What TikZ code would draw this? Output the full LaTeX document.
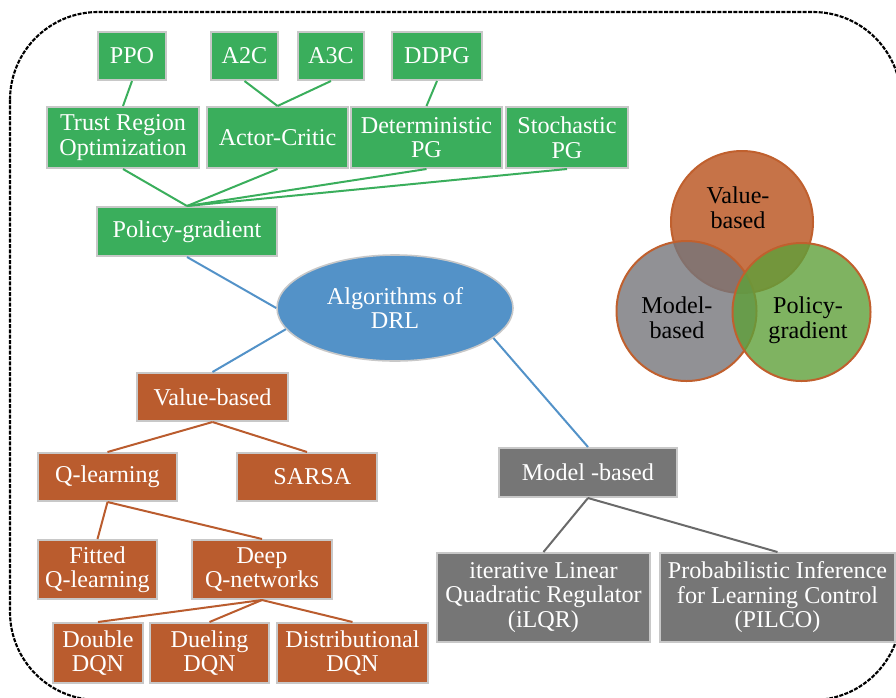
\documentclass[tikz,border=0pt]{standalone}
\usepackage{fontspec}
\setmainfont{Liberation Serif}
\usetikzlibrary{shapes.geometric}
\definecolor{gbox}{HTML}{3AAE5C}
\definecolor{obox}{HTML}{BA5C2E}
\definecolor{kbox}{HTML}{767676}
\definecolor{bell}{HTML}{5392C8}
\definecolor{boxedge}{HTML}{C8C8C8}
\definecolor{vorange}{HTML}{B8501A}
\definecolor{vgray}{HTML}{75757B}
\definecolor{vgreen}{HTML}{5FA03A}
\definecolor{vedge}{HTML}{C0602E}
\begin{document}
\begin{tikzpicture}[x=0.75pt,y=-0.75pt,
  box/.style={draw=boxedge, line width=1.5pt, inner sep=0pt, align=center, text=white,
    font=\fontsize{18.1}{18.4}\selectfont},
  sz/.style 2 args={minimum width=#1*0.75pt, minimum height=#2*0.75pt},
  gb/.style={box, fill=gbox},
  ob/.style={box, fill=obox},
  kb/.style={box, fill=kbox},
  gl/.style={draw=gbox, line width=1.5pt},
  ol/.style={draw=obox, line width=1.5pt},
  kl/.style={draw=kbox!90!black, line width=1.5pt},
  bl/.style={draw=bell, line width=1.5pt},
  venn/.style={draw=vedge, line width=1.5pt, fill opacity=0.8},
  vtext/.style={align=center, text=black, font=\fontsize{18.1}{18.4}\selectfont}
]
\useasboundingbox (0,0) rectangle (896,697);
% outer dashed frame
\draw[black, line width=1.6pt, dash pattern=on 3pt off 1pt, rounded corners=66pt] (10,12) rectangle (901,700);

% policy-gradient branch
\node[gb, sz={68}{48}] (ppo) at (132,56) {PPO};
\node[gb, sz={67}{48}] (a2c) at (244.5,56) {A2C};
\node[gb, sz={66}{48}] (a3c) at (331,56) {A3C};
\node[gb, sz={90}{48}] (ddpg) at (437,56) {DDPG};
\node[gb, sz={152}{61}] (tro) at (123,137.5) {Trust Region\\Optimization};
\node[gb, sz={141}{61}] (ac) at (277.5,137.5) {Actor-Critic};
\node[gb, sz={151}{61}] (dpg) at (426.5,137.5) {Deterministic\\PG};
\node[gb, sz={122}{61}] (spg) at (567,137.5) {Stochastic\\PG};
\node[gb, sz={180}{49}] (pg) at (187,231.5) {Policy-gradient};

\draw[gl] (ppo.south) -- (tro.north);
\draw[gl] (a2c.south) -- (ac.north);
\draw[gl] (a3c.south) -- (ac.north);
\draw[gl] (ddpg.south) -- (dpg.north);
\draw[gl] (tro.south) -- (pg.north);
\draw[gl] (ac.south) -- (pg.north);
\draw[gl] (dpg.south) -- (pg.north);
\draw[gl] (spg.south) -- (pg.north);

% root
\node[ellipse, draw=boxedge, line width=1.2pt, fill=bell, text=white, align=center, inner sep=0pt,
  minimum width=236*0.75pt, minimum height=106*0.75pt,
  font=\fontsize{18.1}{18.4}\selectfont] (root) at (395,308) {Algorithms of\\DRL};

% value-based branch
\node[ob, sz={151}{48}] (vb) at (212.5,397) {Value-based};
\node[ob, sz={139}{48}] (ql) at (107.5,477) {Q-learning};
\node[ob, sz={140}{48}] (sarsa) at (307,477) {\hspace{8pt}SARSA};
\node[ob, sz={119}{59}] (fql) at (97.5,569.5) {Fitted\\Q-learning};
\node[ob, sz={140}{59}] (dqn) at (262,569.5) {Deep\\Q-networks};
\node[ob, sz={90}{60}] (ddqn) at (98,653) {Double\\DQN};
\node[ob, sz={119}{60}] (duqn) at (209.5,653) {Dueling\\DQN};
\node[ob, sz={151}{60}] (diqn) at (352.5,653) {Distributional\\DQN};

\draw[ol] (vb.south) -- (ql.north);
\draw[ol] (vb.south) -- (sarsa.north);
\draw[ol] (ql.south) -- (fql.north);
\draw[ol] (ql.south) -- (dqn.north);
\draw[ol] (dqn.south) -- (ddqn.north);
\draw[ol] (dqn.south) -- (duqn.north);
\draw[ol] (dqn.south) -- (diqn.north);

% model-based branch
\node[kb, sz={178}{49}] (mb) at (588,472.5) {Model -based};
\node[kb, sz={213}{89}] (ilqr) at (543.5,597.5) {iterative Linear\\Quadratic Regulator\\(iLQR)};
\node[kb, sz={235}{89}] (pilco) at (777.5,597.5) {Probabilistic Inference\\for Learning Control\\(PILCO)};

\draw[kl] (mb.south) -- (ilqr.north);
\draw[kl] (mb.south) -- (pilco.north);

% root connectors
\draw[bl] (pg.south) -- (root.west);
\draw[bl] (root.191) -- (vb.north);
\draw[bl] (root.343) -- (mb.north);

% Venn diagram
\path[venn, fill=vorange] (742,222) circle[radius=71*0.75pt];
\path[venn, fill=vgray] (686.5,311) circle[radius=70*0.75pt];
\path[venn, fill=vgreen] (801.5,312) circle[radius=69*0.75pt];
\node[vtext] (vv) at (738,208) {Value-\\based};
\node[vtext] (vm) at (677,318) {Model-\\based};
\node[vtext] (vp) at (808,320) {Policy-\\gradient};
\end{tikzpicture}
\end{document}
